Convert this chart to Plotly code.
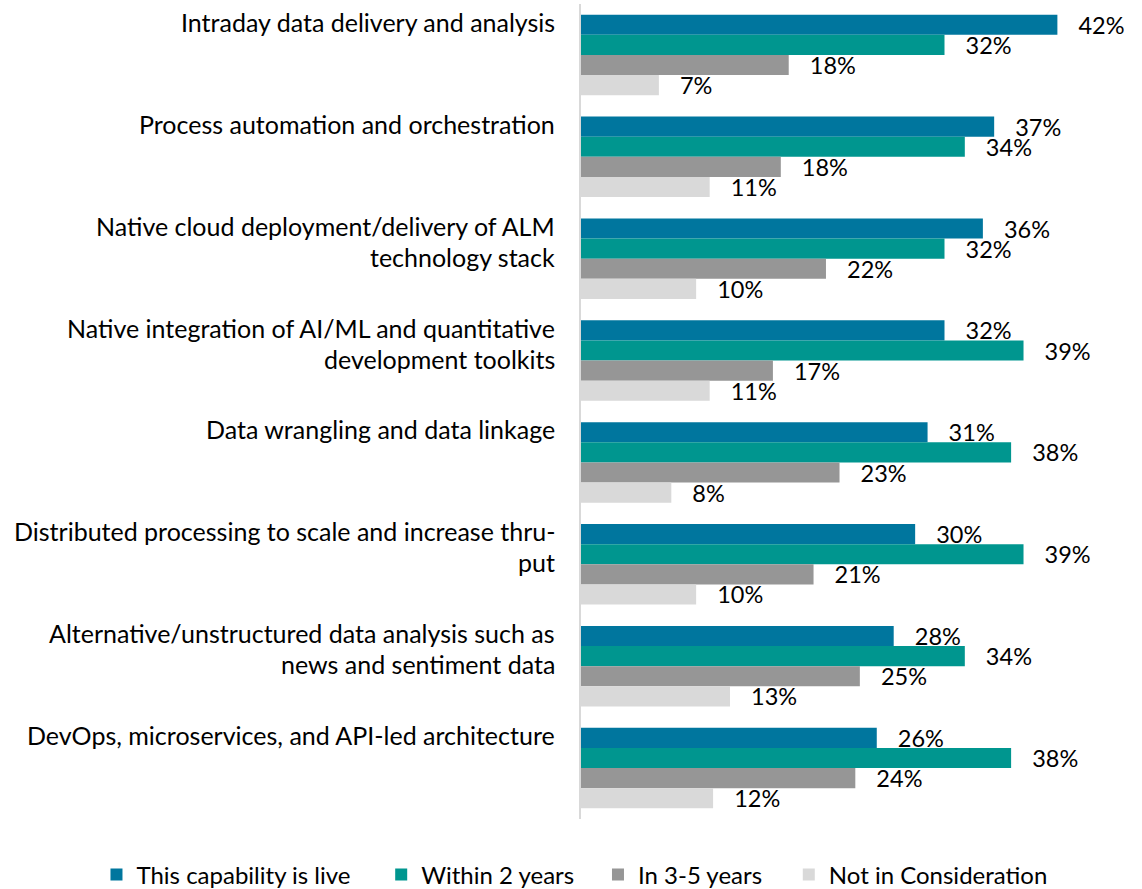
import plotly.graph_objects as go

categories = [
    "Intraday data delivery and analysis",
    "Process automation and orchestration",
    "Native cloud deployment/delivery of ALM<br>technology stack",
    "Native integration of AI/ML and quantitative<br>development toolkits",
    "Data wrangling and data linkage",
    "Distributed processing to scale and increase thru-<br>put",
    "Alternative/unstructured data analysis such as<br>news and sentiment data",
    "DevOps, microservices, and API-led architecture",
]
series_names = ["This capability is live", "Within 2 years", "In 3-5 years", "Not in Consideration"]
# values (%); labels show them rounded
live = [42.2, 36.6, 35.6, 32.2, 30.7, 29.6, 27.7, 26.2]
within2 = [32.2, 34.0, 32.2, 39.2, 38.1, 39.2, 34.0, 38.1]
in35 = [18.4, 17.7, 21.7, 17.0, 22.9, 20.6, 24.7, 24.3]
notcons = [6.9, 11.4, 10.2, 11.4, 8.0, 10.2, 13.2, 11.7]
colors = ["#00769E", "#00968F", "#969696", "#D9D9D9"]

FONT = "Lato"
PLOT_L, PLOT_W = 581, 508.5
legend_px = [96, 381, 598, 789]  # left edges of the legend entries (px)

fig = go.Figure()
for k, (name, vals, col) in enumerate(zip(series_names, [live, within2, in35, notcons], colors)):
    fig.add_trace(go.Bar(
        y=categories, x=vals, name=name, orientation="h",
        marker=dict(color=col, line=dict(width=0)),
        texttemplate="   %{x:.0f}%", textposition="outside",
        constraintext="none", cliponaxis=False,
        textfont=dict(family=FONT, size=23.5, color="#000000"),
        legend="legend" if k == 0 else f"legend{k + 1}",
        hoverinfo="skip",
    ))

# category labels as annotations (per line, to match line spacing)
for cat in categories:
    lines = cat.split("<br>")
    for i, ln in enumerate(lines):
        fig.add_annotation(
            x=0, y=cat, xref="x", yref="y", text=ln, showarrow=False,
            xanchor="right", yanchor="middle", xshift=-24, yshift=33 - 31 * i,
            font=dict(family=FONT, size=25, color="#000000"),
        )

leg_common = dict(orientation="h", xanchor="left", yref="paper",
                  y=-(875 - 819) / 815, yanchor="middle",
                  font=dict(family=FONT, size=24, color="#000000"),
                  itemclick=False, itemdoubleclick=False,
                  bgcolor="rgba(0,0,0,0)")
legends = {}
for k, px in enumerate(legend_px):
    key = "legend" if k == 0 else f"legend{k + 1}"
    legends[key] = dict(leg_common, x=(px - PLOT_L) / PLOT_W)

fig.update_layout(
    width=1142, height=889,
    margin=dict(l=PLOT_L, r=1142 - PLOT_L - PLOT_W, t=4, b=70, autoexpand=False),
    paper_bgcolor="white", plot_bgcolor="white",
    barmode="group", bargap=0.21, bargroupgap=0,
    showlegend=True,
    xaxis=dict(range=[0, 45], showgrid=False, zeroline=False, showticklabels=False,
               showline=False, fixedrange=True),
    yaxis=dict(autorange="reversed", showticklabels=False, showgrid=False,
               showline=True, linecolor="#D9D9D9", linewidth=2, ticks="",
               fixedrange=True),
    **legends,
)

fig.write_html("out.html", config={"displayModeBar": False},
               post_script="document.body.style.margin='0';")
